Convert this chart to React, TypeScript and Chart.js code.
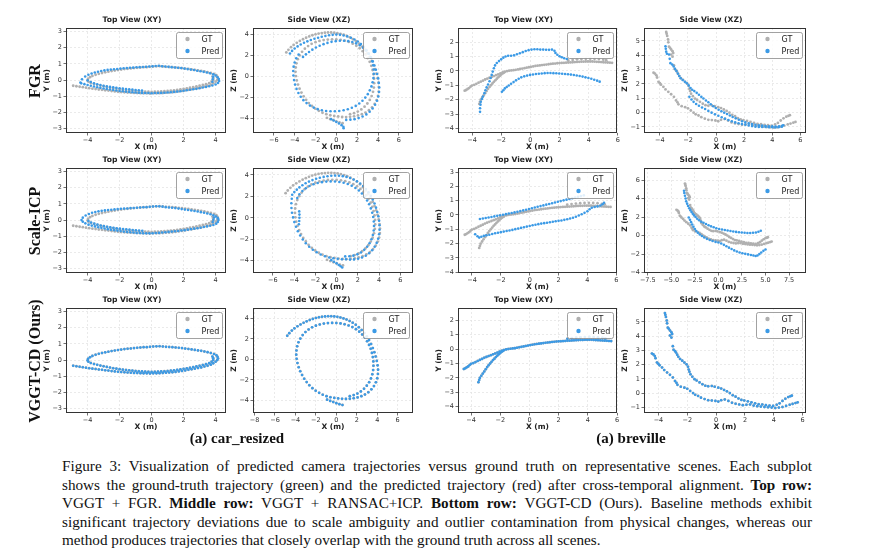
import React, { useEffect, useRef } from 'react';
import { Chart, registerables } from 'chart.js';

Chart.register(...registerables);

type Pt = [number, number];

// ---------- car_resized : top view (X, Y) ----------
const carTopGT: Pt[] = [
  [-4.9,-0.35],[-4.7,-0.38],[-4.5,-0.41],[-4.3,-0.44],[-4.1,-0.47],[-3.9,-0.5],[-3.7,-0.53],[-3.5,-0.55],[-3.3,-0.58],[-3.1,-0.6],
  [-2.9,-0.63],[-2.7,-0.65],[-2.5,-0.68],[-2.3,-0.7],[-2.1,-0.72],[-1.9,-0.74],[-1.7,-0.75],[-1.5,-0.77],[-1.3,-0.78],[-1.1,-0.79],
  [-0.9,-0.8],[-0.7,-0.81],[-0.5,-0.82],[-0.3,-0.82],[-0.1,-0.83],[0.1,-0.82],[0.3,-0.82],[0.5,-0.81],[0.7,-0.8],[0.9,-0.78],
  [1.1,-0.77],[1.3,-0.75],[1.5,-0.73],[1.7,-0.7],[1.9,-0.67],[2.1,-0.64],[2.3,-0.6],[2.5,-0.57],[2.7,-0.53],[2.9,-0.49],
  [3.1,-0.45],[3.3,-0.4],[3.5,-0.35],[3.7,-0.28],[3.85,-0.2],[4.0,-0.1],[4.1,0.0],[4.15,0.1],[4.12,0.2],[4.05,0.3],[3.9,0.38],
  [3.7,0.44],[3.5,0.49],[3.3,0.53],[3.1,0.57],[2.9,0.6],[2.7,0.63],[2.5,0.66],[2.3,0.69],[2.1,0.71],[1.9,0.74],
  [1.7,0.76],[1.5,0.78],[1.3,0.8],[1.1,0.81],[0.9,0.82],[0.7,0.84],[0.5,0.86],[0.3,0.85],[0.1,0.84],[-0.1,0.82],
  [-0.3,0.8],[-0.5,0.8],[-0.7,0.78],[-0.9,0.76],[-1.1,0.74],[-1.3,0.72],[-1.5,0.7],[-1.7,0.68],[-1.9,0.65],[-2.1,0.62],
  [-2.3,0.59],[-2.5,0.56],[-2.7,0.52],[-2.9,0.48],[-3.1,0.44],[-3.3,0.39],[-3.5,0.33],[-3.7,0.26],[-3.85,0.18],[-3.97,0.08],
  [-4.0,-0.02],[-3.95,-0.1],[-3.8,-0.18],[-3.6,-0.24],[-3.4,-0.29],[-3.2,-0.34],[-3.0,-0.38],[-2.8,-0.42],[-2.6,-0.46],[-2.4,-0.5],
  [-2.2,-0.53],[-2.0,-0.56],[-1.8,-0.59],[-1.6,-0.61],[-1.4,-0.63],[-1.2,-0.65],[-1.0,-0.67],[-0.8,-0.69],[-0.6,-0.7],[-0.4,-0.71],
  [-0.2,-0.72],[0.0,-0.73],[0.2,-0.72],[0.4,-0.71],[0.6,-0.7],[0.8,-0.69],[1.0,-0.67],[1.2,-0.65],[1.4,-0.63],[1.6,-0.6],
  [1.8,-0.57],[2.0,-0.54],[2.2,-0.51],[2.4,-0.47],[2.6,-0.43],[2.8,-0.39],[3.0,-0.35],[3.2,-0.3],[3.4,-0.25],[3.6,-0.19],
  [3.75,-0.1],[3.85,0.0],[3.85,0.12],[3.8,0.22],
];

const carTopFGR: Pt[] = [
  [-4.45,-0.15],[-4.35,0.05],[-4.15,0.22],[-3.95,0.33],[-3.75,0.41],[-3.55,0.47],[-3.35,0.52],[-3.15,0.56],[-2.95,0.6],[-2.75,0.63],
  [-2.55,0.65],[-2.35,0.67],[-2.15,0.69],[-1.95,0.71],[-1.75,0.73],[-1.55,0.74],[-1.35,0.76],[-1.15,0.77],[-0.95,0.79],[-0.75,0.8],
  [-0.55,0.81],[-0.35,0.82],[-0.15,0.84],[0.05,0.85],[0.25,0.87],[0.45,0.89],[0.65,0.86],[0.85,0.84],[1.05,0.82],[1.25,0.8],
  [1.45,0.78],[1.65,0.76],[1.85,0.74],[2.05,0.71],[2.25,0.68],[2.45,0.65],[2.65,0.62],[2.85,0.58],[3.05,0.55],[3.25,0.51],
  [3.45,0.47],[3.65,0.42],[3.85,0.36],[4.0,0.28],[4.12,0.18],[4.2,0.06],[4.22,-0.06],[4.15,-0.18],[4.0,-0.27],
  [3.8,-0.33],[3.6,-0.38],[3.4,-0.42],[3.2,-0.46],[3.0,-0.5],[2.8,-0.54],[2.6,-0.57],[2.4,-0.6],[2.2,-0.63],[2.0,-0.66],
  [1.8,-0.69],[1.6,-0.71],[1.4,-0.73],[1.2,-0.75],[1.0,-0.77],[0.8,-0.78],[0.6,-0.79],[0.4,-0.8],[0.2,-0.8],[0.0,-0.81],
  [-0.2,-0.8],[-0.4,-0.8],[-0.6,-0.79],[-0.8,-0.78],[-1.0,-0.77],[-1.2,-0.75],[-1.4,-0.73],[-1.6,-0.71],[-1.8,-0.69],[-2.0,-0.67],
  [-2.2,-0.64],[-2.4,-0.61],[-2.6,-0.58],[-2.8,-0.55],[-3.0,-0.52],[-3.2,-0.48],[-3.4,-0.44],[-3.6,-0.4],[-3.8,-0.35],[-4.0,-0.3],
  [-4.2,-0.25],[-4.4,-0.2],
  [-4.0,-0.02],[-3.8,-0.12],[-3.6,-0.2],[-3.4,-0.26],[-3.2,-0.31],[-3.0,-0.35],[-2.8,-0.39],[-2.6,-0.42],[-2.4,-0.45],[-2.2,-0.48],
  [-2.0,-0.51],[-1.8,-0.53],[-1.6,-0.55],[-1.4,-0.57],[-1.2,-0.59],[-1.0,-0.61],[-0.8,-0.63],[-0.6,-0.64],
  [3.85,0.2],[3.82,0.05],[3.8,-0.1],
];

const carTopICP: Pt[] = [
  [-4.38,0.0],[-4.3,0.15],[-4.12,0.28],[-3.92,0.38],[-3.72,0.45],[-3.52,0.5],[-3.32,0.54],[-3.12,0.57],[-2.92,0.6],[-2.72,0.62],
  [-2.52,0.64],[-2.32,0.66],[-2.12,0.68],[-1.92,0.7],[-1.72,0.71],[-1.52,0.72],[-1.32,0.74],[-1.12,0.75],[-0.92,0.76],[-0.72,0.78],
  [-0.52,0.79],[-0.32,0.8],[-0.12,0.82],[0.08,0.84],[0.28,0.86],[0.48,0.85],[0.68,0.83],[0.88,0.8],[1.08,0.78],[1.28,0.76],
  [1.48,0.74],[1.68,0.71],[1.88,0.68],[2.08,0.65],[2.28,0.62],[2.48,0.59],[2.68,0.56],[2.88,0.53],[3.08,0.49],[3.28,0.45],
  [3.48,0.41],[3.68,0.36],[3.86,0.3],[4.02,0.22],[4.14,0.12],[4.18,0.0],[4.14,-0.12],[4.04,-0.22],
  [3.86,-0.3],[3.66,-0.35],[3.46,-0.39],[3.26,-0.43],[3.06,-0.47],[2.86,-0.5],[2.66,-0.53],[2.46,-0.56],[2.26,-0.59],[2.06,-0.62],
  [1.86,-0.64],[1.66,-0.67],[1.46,-0.69],[1.26,-0.71],[1.06,-0.73],[0.86,-0.75],[0.66,-0.77],[0.46,-0.79],[0.26,-0.8],[0.06,-0.81],
  [-0.14,-0.82],[-0.34,-0.82],[-0.54,-0.81],[-0.74,-0.8],[-0.94,-0.79],[-1.14,-0.77],[-1.34,-0.75],[-1.54,-0.73],[-1.74,-0.71],[-1.94,-0.68],
  [-2.14,-0.65],[-2.34,-0.62],[-2.54,-0.59],[-2.74,-0.56],[-2.94,-0.52],[-3.14,-0.48],[-3.34,-0.44],[-3.54,-0.39],[-3.74,-0.34],[-3.94,-0.28],
  [-4.14,-0.2],[-4.3,-0.1],
  [-3.95,-0.05],[-3.78,-0.15],[-3.58,-0.22],[-3.38,-0.28],[-3.18,-0.33],[-2.98,-0.37],[-2.78,-0.41],[-2.58,-0.44],[-2.38,-0.47],[-2.18,-0.5],
  [-1.98,-0.53],[-1.78,-0.55],[-1.58,-0.57],[-1.38,-0.59],[-1.18,-0.61],[-0.98,-0.63],[-0.78,-0.65],[-0.58,-0.66],
  [3.9,0.16],[3.86,0.02],[3.82,-0.12],
];

// ---------- car_resized : side view (X, Z) ----------
const carSideGT: Pt[] = [
  [-4.8,2.3],[-4.6,2.55],[-4.35,2.8],[-4.1,3.02],[-3.8,3.22],[-3.5,3.4],[-3.2,3.56],[-2.9,3.7],[-2.6,3.83],[-2.3,3.94],
  [-2.0,4.03],[-1.7,4.1],[-1.4,4.15],[-1.1,4.18],[-0.8,4.2],[-0.5,4.2],[-0.2,4.18],[0.1,4.14],[0.4,4.08],[0.7,3.99],
  [1.0,3.88],[1.3,3.74],[1.6,3.57],[1.9,3.37],[2.2,3.13],[2.48,2.86],[2.74,2.56],[2.98,2.23],[3.2,1.88],[3.4,1.5],
  [3.57,1.1],[3.72,0.7],[3.85,0.28],[3.96,-0.15],[4.04,-0.58],[4.08,-1.0],[4.07,-1.42],[4.0,-1.84],[3.87,-2.23],[3.68,-2.6],
  [3.43,-2.92],[3.13,-3.2],[2.8,-3.42],[2.45,-3.58],[2.08,-3.7],[1.7,-3.78],[1.32,-3.83],[0.94,-3.85],[0.56,-3.84],[0.18,-3.8],
  [-0.2,-3.75],[-0.58,-3.68],[-0.96,-3.58],[-1.33,-3.44],[-1.68,-3.26],[-2.02,-3.05],[-2.34,-2.8],[-2.64,-2.52],[-2.9,-2.21],[-3.14,-1.88],
  [-3.35,-1.52],[-3.53,-1.15],[-3.68,-0.76],[-3.8,-0.36],[-3.88,0.05],[-3.92,0.46],[-3.9,0.87],[-3.83,1.27],[-3.7,1.66],[-3.52,2.02],
  [-3.29,2.36],[-3.02,2.66],[-2.71,2.91],[-2.37,3.12],[-2.0,3.28],[-1.62,3.4],[-1.22,3.48],[-0.82,3.53],[-0.41,3.55],[0.0,3.54],
  [0.41,3.5],[0.81,3.42],[1.2,3.3],[1.57,3.14],[1.92,2.94],[2.24,2.7],[2.53,2.42],[2.79,2.11],[3.01,1.77],[3.2,1.41],
  [3.36,1.03],[3.48,0.63],[3.57,0.22],[3.62,-0.2],[3.63,-0.62],[3.6,-1.04],[3.52,-1.45],[3.39,-1.85],[3.21,-2.22],[2.98,-2.56],
  [2.71,-2.86],[2.4,-3.12],[2.06,-3.33],[1.7,-3.48],[1.32,-3.58],
  [-0.9,-3.92],[-0.6,-4.04],[-0.3,-4.15],[0.0,-4.26],[0.3,-4.36],[0.6,-4.44],
];

const carSideFGR: Pt[] = [
  [-4.45,2.2],[-4.25,2.45],[-4.0,2.68],[-3.72,2.88],[-3.42,3.06],[-3.1,3.22],[-2.78,3.36],[-2.45,3.49],[-2.1,3.6],[-1.75,3.7],
  [-1.4,3.79],[-1.05,3.87],[-0.7,3.94],[-0.35,3.98],[0.0,4.0],[0.35,3.98],[0.7,3.92],[1.05,3.83],[1.4,3.7],[1.74,3.54],
  [2.06,3.34],[2.36,3.1],[2.64,2.83],[2.89,2.52],[3.12,2.19],[3.32,1.83],[3.5,1.45],[3.66,1.06],[3.8,0.66],[3.92,0.25],
  [4.02,-0.17],[4.08,-0.6],[4.12,-1.03],[4.1,-1.46],[4.03,-1.89],[3.9,-2.3],[3.72,-2.68],[3.48,-3.03],[3.2,-3.34],[2.88,-3.6],
  [2.52,-3.8],[2.14,-3.95],[1.75,-4.05],[1.35,-4.1],[0.95,-4.12],
  [-0.5,-4.05],[-0.25,-4.18],[0.0,-4.32],[0.25,-4.47],[0.5,-4.62],[0.68,-4.78],[0.7,-4.92],
  [-3.62,2.1],[-3.85,1.75],[-4.0,1.35],[-4.1,0.95],[-4.14,0.53],[-4.12,0.1],[-4.06,-0.33],[-3.96,-0.76],[-3.82,-1.17],[-3.64,-1.56],
  [-3.42,-1.92],[-3.16,-2.24],[-2.86,-2.52],[-2.53,-2.76],[-2.17,-2.95],[-1.79,-3.1],[-1.39,-3.2],[-0.98,-3.27],[-0.56,-3.3],[-0.14,-3.3],
  [0.28,-3.27],[0.7,-3.21],[1.1,-3.11],[1.49,-2.97],[1.86,-2.79],[2.2,-2.56],[2.51,-2.3],[2.78,-2.0],[3.02,-1.67],[3.21,-1.31],
  [3.37,-0.93],[3.48,-0.54],[3.56,-0.14],[3.6,0.27],[3.59,0.68],[3.54,1.08],[3.44,1.47],[3.29,1.84],[3.09,2.18],[2.85,2.49],
  [2.57,2.76],[2.25,2.99],[1.9,3.17],[1.53,3.3],[1.14,3.38],[0.74,3.42],[0.34,3.42],[-0.06,3.38],[-0.46,3.31],[-0.85,3.21],
  [-1.23,3.09],[-1.6,2.94],[-1.96,2.77],[-2.3,2.57],[-2.62,2.35],[-2.92,2.12],[-3.2,1.88],
];

const carSideICP: Pt[] = [
  [-4.18,2.15],[-3.98,2.4],[-3.75,2.63],[-3.5,2.84],[-3.22,3.04],[-2.92,3.22],[-2.6,3.38],[-2.27,3.52],[-1.93,3.64],[-1.58,3.74],
  [-1.22,3.82],[-0.86,3.88],[-0.5,3.92],[-0.14,3.94],[0.22,3.93],[0.58,3.89],[0.93,3.82],[1.27,3.72],[1.6,3.58],[1.92,3.41],
  [2.22,3.2],[2.5,2.96],[2.76,2.69],[3.0,2.39],[3.21,2.06],[3.4,1.71],[3.57,1.34],[3.71,0.95],[3.83,0.55],[3.93,0.14],
  [4.0,-0.28],[4.04,-0.7],[4.04,-1.12],[4.0,-1.54],[3.91,-1.95],[3.77,-2.34],[3.58,-2.7],[3.34,-3.03],[3.06,-3.31],[2.74,-3.54],
  [2.39,-3.71],[2.02,-3.82],[1.64,-3.88],[1.26,-3.9],[0.88,-3.87],
  [0.5,-3.86],[0.1,-3.83],[-0.3,-3.78],[-0.7,-3.7],[-1.1,-3.58],[-1.5,-3.42],[-1.88,-3.22],[-2.24,-2.98],[-2.58,-2.7],[-2.9,-2.38],
  [-3.18,-2.03],[-3.43,-1.65],[-3.65,-1.25],[-3.83,-0.83],[-3.98,-0.4],[-4.1,0.04],[-4.2,0.48],[-4.25,0.92],[-4.26,1.36],[-4.22,1.78],
  [-3.7,1.85],[-3.5,2.2],[-3.22,2.5],[-2.9,2.76],[-2.55,2.97],[-2.17,3.13],[-1.78,3.25],[-1.38,3.33],[-0.97,3.38],[-0.56,3.4],
  [-0.15,3.39],[0.26,3.35],[0.66,3.27],[1.05,3.15],[1.42,2.99],[1.77,2.79],[2.09,2.55],[2.38,2.27],[2.64,1.96],[2.87,1.62],
  [3.06,1.26],[3.22,0.88],[3.35,0.48],[3.44,0.07],[3.5,-0.35],[3.52,-0.77],[3.49,-1.19],[3.41,-1.6],[3.28,-2.0],[3.1,-2.37],
  [2.87,-2.7],[2.6,-2.99],[2.29,-3.23],[1.95,-3.41],[1.58,-3.53],[1.2,-3.59],[0.81,-3.6],
  [-3.52,0.6],[-3.5,0.3],[-3.5,0.0],[-3.52,-0.3],[-3.55,-0.6],
  [-0.5,-3.95],[-0.25,-4.1],[0.0,-4.25],[0.2,-4.4],[0.38,-4.52],[0.53,-4.64],
];

// ---------- breville : top view (X, Y) ----------
const brevTopGT: Pt[] = [
  [-4.5,-1.38],[-4.4,-1.33],[-4.3,-1.26],[-4.2,-1.2],[-4.1,-1.1],[-4.0,-1.02],[-3.85,-0.97],[-3.7,-0.9],[-3.55,-0.82],[-3.4,-0.75],
  [-3.25,-0.68],[-3.1,-0.6],[-2.95,-0.54],[-2.8,-0.48],[-2.65,-0.42],[-2.5,-0.36],[-2.35,-0.3],[-2.2,-0.24],[-2.05,-0.17],[-1.9,-0.11],
  [-1.75,-0.06],[-1.6,-0.02],[-1.45,0.01],[-1.3,0.03],[-1.15,0.05],[-1.0,0.07],[-0.85,0.1],[-0.7,0.13],[-0.55,0.16],[-0.4,0.19],
  [-0.25,0.22],[-0.1,0.25],[0.05,0.28],[0.2,0.31],[0.35,0.34],[0.5,0.36],[0.65,0.38],[0.8,0.4],[0.95,0.42],[1.1,0.44],
  [1.25,0.46],[1.4,0.48],[1.55,0.5],[1.7,0.51],[1.85,0.53],[2.0,0.54],[2.15,0.55],[2.3,0.56],[2.45,0.57],[2.6,0.58],
  [2.75,0.59],[2.9,0.6],[3.05,0.61],[3.2,0.62],[3.35,0.63],[3.5,0.64],[3.65,0.64],[3.8,0.65],[3.95,0.65],[4.1,0.65],
  [4.25,0.65],[4.4,0.64],[4.55,0.63],[4.7,0.62],[4.85,0.61],[5.0,0.6],[5.15,0.59],[5.3,0.58],[5.45,0.57],[5.6,0.56],
  [2.6,0.72],[2.9,0.76],[3.2,0.8],[3.5,0.82],[3.8,0.84],[4.1,0.85],[4.4,0.84],[4.7,0.82],[5.0,0.78],[5.2,0.74],
  [-3.5,-2.3],[-3.45,-2.15],[-3.4,-2.0],[-3.3,-1.85],[-3.2,-1.7],[-3.1,-1.55],[-3.0,-1.4],[-2.9,-1.25],[-2.8,-1.12],[-2.7,-1.0],
  [-2.6,-0.88],[-2.5,-0.76],[-2.4,-0.66],[-2.3,-0.55],[-2.2,-0.45],[-2.1,-0.35],[-2.0,-0.26],[-1.9,-0.18],[-1.8,-0.12],
];

const brevTopFGR: Pt[] = [
  [-3.45,-2.85],[-3.45,-2.6],[-3.42,-2.35],[-3.4,-2.15],[-3.32,-1.95],[-3.25,-1.78],[-3.15,-1.55],[-3.08,-1.35],[-3.0,-1.15],[-2.9,-0.95],
  [-2.8,-0.72],[-2.72,-0.5],[-2.65,-0.28],[-2.58,-0.05],[-2.5,0.18],[-2.42,0.38],[-2.3,0.55],[-2.15,0.68],[-2.0,0.8],[-1.85,0.92],
  [-1.7,1.0],[-1.52,1.05],[-1.32,1.05],[-1.12,1.08],[-0.92,1.15],[-0.72,1.22],[-0.52,1.3],[-0.32,1.38],[-0.12,1.44],[0.08,1.48],
  [0.28,1.5],[0.48,1.5],[0.68,1.48],[0.88,1.48],[1.08,1.47],[1.28,1.46],[1.48,1.48],[1.65,1.4],[1.72,1.25],[1.85,1.12],
  [2.0,1.02],[2.15,0.95],[2.32,0.88],[2.5,0.82],
  [-1.95,-1.45],[-1.85,-1.35],[-1.75,-1.22],[-1.62,-1.12],[-1.48,-1.02],[-1.32,-0.9],[-1.15,-0.78],[-0.98,-0.66],[-0.8,-0.55],[-0.62,-0.45],
  [-0.42,-0.38],[-0.22,-0.33],[-0.02,-0.28],[0.18,-0.25],[0.38,-0.22],[0.58,-0.2],[0.78,-0.18],[0.98,-0.16],[1.18,-0.15],[1.38,-0.15],
  [1.58,-0.16],[1.78,-0.17],[1.98,-0.18],[2.18,-0.2],[2.38,-0.22],[2.58,-0.24],[2.78,-0.26],[2.98,-0.29],[3.18,-0.32],[3.38,-0.36],
  [3.58,-0.4],[3.78,-0.45],[3.98,-0.5],[4.18,-0.55],[4.38,-0.62],[4.58,-0.68],[4.75,-0.75],
];

const brevTopICP: Pt[] = [
  [-3.45,-0.28],[-3.25,-0.25],[-3.05,-0.21],[-2.85,-0.18],[-2.65,-0.14],[-2.45,-0.1],[-2.25,-0.06],[-2.05,-0.02],[-1.85,0.02],[-1.65,0.06],
  [-1.45,0.1],[-1.25,0.14],[-1.05,0.18],[-0.85,0.22],[-0.65,0.27],[-0.45,0.32],[-0.25,0.37],[-0.05,0.42],[0.15,0.47],[0.35,0.52],
  [0.55,0.57],[0.75,0.62],[0.95,0.67],[1.15,0.72],[1.35,0.77],[1.55,0.82],[1.75,0.87],[1.95,0.92],[2.15,0.97],[2.35,1.02],
  [2.55,1.07],[2.75,1.12],[2.95,1.17],[3.15,1.22],[3.35,1.27],[3.55,1.32],[3.75,1.37],
  [-3.78,-1.35],[-3.62,-1.48],[-3.5,-1.58],[-3.35,-1.52],[-3.18,-1.46],[-3.0,-1.42],[-2.8,-1.38],[-2.6,-1.33],[-2.4,-1.28],[-2.2,-1.24],
  [-2.0,-1.2],[-1.8,-1.16],[-1.6,-1.12],[-1.4,-1.08],[-1.2,-1.04],[-1.0,-0.99],[-0.8,-0.95],[-0.6,-0.9],[-0.4,-0.86],[-0.2,-0.81],
  [0.0,-0.77],[0.2,-0.72],[0.4,-0.68],[0.6,-0.64],[0.8,-0.6],[1.0,-0.57],[1.2,-0.54],[1.4,-0.51],[1.6,-0.47],[1.8,-0.44],
  [2.0,-0.41],[2.2,-0.38],[2.4,-0.34],[2.6,-0.3],[2.8,-0.25],[3.0,-0.19],[3.2,-0.12],[3.4,-0.04],[3.6,0.05],[3.8,0.15],
  [4.0,0.26],[4.15,0.4],[4.3,0.5],[4.5,0.56],[4.7,0.6],[4.9,0.66],[5.05,0.75],[5.15,0.85],
];

// ---------- breville : side view (X, Z) ----------
const brevSideGT: Pt[] = [
  [-3.55,5.62],[-3.52,5.5],[-3.48,5.35],[-3.42,5.1],[-3.4,4.9],[-3.35,4.6],[-3.28,4.52],[-3.2,4.4],[-3.1,4.28],[-3.05,4.15],
  [-3.2,4.05],[-3.1,3.9],[-3.0,3.3],[-2.95,3.05],[-2.85,2.95],[-2.78,2.85],[-2.7,2.7],[-2.62,2.55],[-2.5,2.4],[-2.35,2.28],
  [-2.2,2.15],[-2.05,2.02],[-1.95,1.85],[-1.9,1.65],[-1.85,1.5],[-1.78,1.32],[-1.65,1.15],[-1.5,0.98],[-1.35,0.88],[-1.15,0.75],
  [-0.95,0.62],[-0.75,0.52],[-0.55,0.48],[-0.3,0.5],[-0.1,0.45],[0.15,0.38],[0.35,0.32],[0.55,0.22],[0.75,0.12],[0.95,0.0],
  [1.15,-0.15],[1.35,-0.25],[1.55,-0.38],[1.75,-0.48],[1.95,-0.52],[2.2,-0.58],[2.45,-0.65],[2.7,-0.72],[2.95,-0.78],[3.2,-0.8],
  [3.45,-0.85],[3.7,-0.88],[3.95,-0.9],[4.2,-0.82],[4.4,-0.72],[4.6,-0.55],[4.8,-0.4],[5.0,-0.28],[5.15,-0.22],[5.25,-0.18],
  [-4.45,2.78],[-4.35,2.72],[-4.25,2.6],[-4.2,2.45],[-4.1,2.15],[-4.0,2.05],[-3.92,1.95],[-3.75,1.8],[-3.6,1.62],[-3.4,1.45],
  [-3.2,1.28],[-3.0,1.1],[-2.85,0.85],[-2.75,0.72],[-2.68,0.58],[-2.45,0.45],[-2.2,0.38],[-2.0,0.3],[-1.8,0.15],[-1.6,0.0],
  [-1.45,-0.12],[-1.25,-0.2],[-1.05,-0.32],[-0.8,-0.42],[-0.55,-0.5],[-0.3,-0.52],[-0.05,-0.55],[0.15,-0.6],[0.35,-0.5],[0.6,-0.45],
  [0.85,-0.55],[1.1,-0.68],[1.35,-0.75],[1.6,-0.8],[1.85,-0.85],[2.1,-0.82],[2.35,-0.8],[2.6,-0.88],[2.85,-0.92],[3.1,-0.95],
  [3.35,-0.98],[3.6,-1.0],[3.85,-1.02],[4.1,-1.05],[4.35,-1.02],[4.6,-0.98],[4.85,-0.9],[5.1,-0.82],[5.3,-0.76],[5.5,-0.7],[5.65,-0.65],
];

const brevSideFGR: Pt[] = [
  [-3.6,4.62],[-3.58,4.45],[-3.55,4.25],[-3.5,4.1],[-3.35,4.05],[-3.3,3.75],[-3.25,3.45],[-3.12,3.35],[-3.02,3.22],[-2.92,3.05],
  [-2.82,2.9],[-2.72,2.72],[-2.62,2.55],[-2.52,2.4],[-2.38,2.28],[-2.22,2.15],[-2.08,2.05],[-1.95,1.9],[-1.82,1.72],[-1.7,1.6],
  [-1.55,1.5],[-1.38,1.38],[-1.22,1.25],[-1.05,1.1],[-0.9,0.98],[-0.72,0.85],[-0.55,0.72],[-0.38,0.58],[-0.2,0.45],[-0.02,0.32],
  [0.18,0.2],[0.38,0.1],[0.58,0.0],[0.78,-0.1],[0.98,-0.2],[1.18,-0.3],[1.4,-0.4],[1.62,-0.5],[1.85,-0.6],[2.08,-0.68],
  [2.32,-0.75],[2.56,-0.8],[2.8,-0.85],[3.04,-0.88],[3.28,-0.9],[3.52,-0.93],[3.76,-0.95],[4.0,-0.96],[4.24,-0.97],[4.48,-0.96],
  [4.7,-0.92],[4.78,-0.88],
  [-1.9,1.1],[-1.75,0.92],[-1.6,0.75],[-1.42,0.6],[-1.22,0.48],[-1.0,0.36],[-0.78,0.25],[-0.55,0.12],[-0.32,0.0],[-0.08,-0.12],
  [0.16,-0.22],[0.4,-0.32],[0.64,-0.42],[0.88,-0.52],[1.12,-0.6],[1.36,-0.68],[1.6,-0.74],[1.84,-0.8],[2.08,-0.85],[2.32,-0.9],
  [2.56,-0.94],[2.8,-0.98],[3.04,-1.0],[3.28,-1.0],[3.52,-1.0],[3.76,-1.02],[4.0,-1.02],[4.22,-1.03],[4.45,-1.02],[4.68,-0.98],
];

const brevSideICP: Pt[] = [
  [-3.65,4.85],[-3.62,4.6],[-3.55,4.3],[-3.48,4.0],[-3.42,3.7],[-3.32,3.45],[-3.22,3.2],[-3.1,2.95],[-2.98,2.75],[-2.85,2.55],
  [-2.72,2.35],[-2.58,2.18],[-2.42,2.0],[-2.25,1.82],[-2.05,1.65],[-1.82,1.5],[-1.58,1.38],[-1.32,1.25],[-1.05,1.12],[-0.78,1.0],
  [-0.5,0.9],[-0.22,0.8],[0.08,0.72],[0.38,0.65],[0.68,0.6],[0.98,0.55],[1.28,0.5],[1.58,0.45],[1.88,0.4],[2.18,0.36],
  [2.48,0.33],[2.78,0.3],[3.08,0.28],[3.38,0.28],[3.68,0.3],[3.98,0.34],[4.25,0.42],[4.5,0.52],
  [-3.15,1.95],[-3.02,1.7],[-2.9,1.45],[-2.78,1.2],[-2.65,0.95],[-2.5,0.72],[-2.35,0.5],[-2.18,0.3],[-1.98,0.12],[-1.75,-0.05],
  [-1.5,-0.2],[-1.22,-0.35],[-0.92,-0.48],[-0.62,-0.58],[-0.3,-0.68],[0.0,-0.75],[0.3,-0.85],[0.58,-1.0],[0.85,-1.15],[1.12,-1.3],
  [1.4,-1.45],[1.68,-1.6],[1.96,-1.72],[2.25,-1.82],[2.55,-1.9],[2.85,-1.97],[3.15,-2.03],[3.45,-2.1],[3.72,-2.15],[3.95,-2.2],
  [4.15,-2.15],[4.35,-2.0],[4.55,-1.82],[4.78,-1.65],[5.0,-1.5],
];

// VGGT-CD output lands on the ground truth in every view
const carTopOurs: Pt[] = carTopGT;
const carSideOurs: Pt[] = carSideGT;
const brevTopOurs: Pt[] = brevTopGT;
const brevSideOurs: Pt[] = brevSideGT;

// ---------- tick values ----------
const carTopXTicks = [-4, -2, 0, 2, 4];
const carTopYTicks = [-3, -2, -1, 0, 1, 2, 3];
const carSideXTicks = [-6, -4, -2, 0, 2, 4, 6];
const carSideXTicksOurs = [-8, -6, -4, -2, 0, 2, 4, 6];
const carSideYTicks = [-4, -2, 0, 2, 4];
const brevTopXTicks = [-4, -2, 0, 2, 4, 6];
const brevTopYTicks = [-4, -3, -2, -1, 0, 1, 2];
const brevTopYTicksICP = [-4, -3, -2, -1, 0, 1, 2, 3];
const brevSideXTicks = [-4, -2, 0, 2, 4, 6];
const brevSideYTicks = [-1, 0, 1, 2, 3, 4, 5];
const brevSideXTicksICP = [-7.5, -5, -2.5, 0, 2.5, 5, 7.5];
const brevSideYTicksICP = [-4, -2, 0, 2, 4, 6];

const rowNames = ['FGR', 'Scale-ICP', 'VGGT-CD (Ours)'];
const sceneNames = ['(a) car_resized', '(a) breville'];

// ---------- styling ----------
const SANS = '"DejaVu Sans", Verdana, sans-serif';
const SERIF = '"Liberation Serif", "Times New Roman", serif';
const GT_COLOR = '#b0b0b0';
const PRED_COLOR = '#3b9ae6';
const GRID_COLOR = '#e2e2e2';
const INK = '#222222';

const COL_LEFT = [66, 253, 458, 644];
const COL_WIDTH = [160, 160, 159, 162];
const ROW_TOP = [28, 168, 308];
const PLOT_H = 105;

const Y_AXIS_W = 28;
const TITLE_H = 20;
const X_AXIS_H = 20;
const RIGHT_PAD = 6;

interface PanelSpec {
  row: number;
  col: number;
  title: string;
  yLabel: string;
  gt: Pt[];
  pred: Pt[];
  xRange: [number, number];
  yRange: [number, number];
  xTicks: number[];
  yTicks: number[];
  xDecimals: number;
}

const TOP = 'Top View (XY)';
const SIDE = 'Side View (XZ)';

const panels: PanelSpec[] = [
  { row: 0, col: 0, title: TOP, yLabel: 'Y (m)', gt: carTopGT, pred: carTopFGR, xRange: [-5.35, 4.65], yRange: [-3.27, 3.22], xTicks: carTopXTicks, yTicks: carTopYTicks, xDecimals: 0 },
  { row: 0, col: 1, title: SIDE, yLabel: 'Z (m)', gt: carSideGT, pred: carSideFGR, xRange: [-8.0, 7.36], yRange: [-5.37, 4.63], xTicks: carSideXTicks, yTicks: carSideYTicks, xDecimals: 0 },
  { row: 0, col: 2, title: TOP, yLabel: 'Y (m)', gt: brevTopGT, pred: brevTopFGR, xRange: [-4.96, 5.94], yRange: [-4.32, 2.98], xTicks: brevTopXTicks, yTicks: brevTopYTicks, xDecimals: 0 },
  { row: 0, col: 3, title: SIDE, yLabel: 'Z (m)', gt: brevSideGT, pred: brevSideFGR, xRange: [-5.13, 6.4], yRange: [-1.42, 5.9], xTicks: brevSideXTicks, yTicks: brevSideYTicks, xDecimals: 0 },

  { row: 1, col: 0, title: TOP, yLabel: 'Y (m)', gt: carTopGT, pred: carTopICP, xRange: [-5.35, 4.65], yRange: [-3.27, 3.22], xTicks: carTopXTicks, yTicks: carTopYTicks, xDecimals: 0 },
  { row: 1, col: 1, title: SIDE, yLabel: 'Z (m)', gt: carSideGT, pred: carSideICP, xRange: [-7.87, 7.19], yRange: [-5.15, 4.65], xTicks: carSideXTicks, yTicks: carSideYTicks, xDecimals: 0 },
  { row: 1, col: 2, title: TOP, yLabel: 'Y (m)', gt: brevTopGT, pred: brevTopICP, xRange: [-4.97, 6.05], yRange: [-4.05, 3.28], xTicks: brevTopXTicks, yTicks: brevTopYTicksICP, xDecimals: 0 },
  { row: 1, col: 3, title: SIDE, yLabel: 'Z (m)', gt: brevSideGT, pred: brevSideICP, xRange: [-7.9, 9.3], yRange: [-4.04, 7.3], xTicks: brevSideXTicksICP, yTicks: brevSideYTicksICP, xDecimals: 1 },

  { row: 2, col: 0, title: TOP, yLabel: 'Y (m)', gt: carTopGT, pred: carTopOurs, xRange: [-5.35, 4.65], yRange: [-3.27, 3.22], xTicks: carTopXTicks, yTicks: carTopYTicks, xDecimals: 0 },
  { row: 2, col: 1, title: SIDE, yLabel: 'Z (m)', gt: carSideGT, pred: carSideOurs, xRange: [-8.15, 7.5], yRange: [-5.22, 5.0], xTicks: carSideXTicksOurs, yTicks: carSideYTicks, xDecimals: 0 },
  { row: 2, col: 2, title: TOP, yLabel: 'Y (m)', gt: brevTopGT, pred: brevTopOurs, xRange: [-4.9, 6.0], yRange: [-4.44, 2.86], xTicks: brevTopXTicks, yTicks: brevTopYTicks, xDecimals: 0 },
  { row: 2, col: 3, title: SIDE, yLabel: 'Z (m)', gt: brevSideGT, pred: brevSideOurs, xRange: [-5.0, 6.23], yRange: [-1.4, 5.98], xTicks: brevSideXTicks, yTicks: brevSideYTicks, xDecimals: 0 },
];

const tickFormatter = (decimals: number) => (value: number | string) => {
  const v = Number(value);
  const s = Math.abs(v).toFixed(decimals);
  return v < 0 ? '\u2212' + s : s;
};

// full rectangular frame around the plotting area
const framePlugin = {
  id: 'frameBox',
  afterDatasetsDraw(chart: Chart) {
    const { ctx, chartArea: a } = chart;
    ctx.save();
    ctx.strokeStyle = '#333333';
    ctx.lineWidth = 1;
    ctx.strokeRect(a.left + 0.5, a.top + 0.5, a.right - a.left - 1, a.bottom - a.top - 1);
    ctx.restore();
  },
};

// boxed legend in the upper-right corner of the plotting area
const legendBoxPlugin = {
  id: 'legendBox',
  afterDraw(chart: Chart) {
    const { ctx, chartArea: a } = chart;
    const w = 46, h = 26;
    const x = a.right - 4 - w;
    const y = a.top + 4;
    ctx.save();
    ctx.beginPath();
    ctx.roundRect(x + 0.5, y + 0.5, w, h, 2);
    ctx.fillStyle = 'rgba(255,255,255,0.85)';
    ctx.fill();
    ctx.strokeStyle = '#8a8a8a';
    ctx.lineWidth = 0.8;
    ctx.stroke();
    const items = chart.data.datasets.slice().reverse();
    items.forEach((ds, i) => {
      const cy = y + 7 + i * 12;
      ctx.beginPath();
      ctx.arc(x + 11.5, cy, 2.2, 0, Math.PI * 2);
      ctx.fillStyle = ds.backgroundColor as string;
      ctx.fill();
      ctx.fillStyle = INK;
      ctx.font = `8px ${SANS}`;
      ctx.textBaseline = 'middle';
      ctx.textAlign = 'left';
      ctx.fillText(ds.label as string, x + 25.5, cy + 0.5);
    });
    ctx.restore();
  },
};

function Panel({ spec }: { spec: PanelSpec }) {
  const ref = useRef<HTMLCanvasElement>(null);
  const plotW = COL_WIDTH[spec.col];
  const cw = Y_AXIS_W + plotW + RIGHT_PAD;
  const ch = TITLE_H + PLOT_H + X_AXIS_H;
  const left = COL_LEFT[spec.col] - Y_AXIS_W;
  const top = ROW_TOP[spec.row] - TITLE_H;

  useEffect(() => {
    if (!ref.current) return;
    const tickFont = { family: SANS, size: 6.5 };
    const labelFont = { family: SANS, size: 7.5, weight: 'bold' as const };
    const chart = new Chart(ref.current, {
      type: 'scatter',
      data: {
        datasets: [
          {
            label: 'Pred',
            data: spec.pred.map(([x, y]) => ({ x, y })),
            backgroundColor: PRED_COLOR,
            pointRadius: 1.3,
            pointBorderWidth: 0,
            borderWidth: 0,
            order: 0,
          },
          {
            label: 'GT',
            data: spec.gt.map(([x, y]) => ({ x, y })),
            backgroundColor: GT_COLOR,
            pointRadius: 1.4,
            pointBorderWidth: 0,
            borderWidth: 0,
            order: 1,
          },
        ],
      },
      options: {
        responsive: false,
        animation: false,
        events: [],
        layout: { padding: { left: 0, right: RIGHT_PAD, top: 0, bottom: 0 } },
        plugins: {
          legend: { display: false },
          tooltip: { enabled: false },
          title: {
            display: true,
            text: spec.title,
            color: INK,
            font: { family: SANS, size: 7.6, weight: 'bold' },
            padding: { top: 7.2, bottom: 3.68 },
          },
        },
        scales: {
          x: {
            type: 'linear',
            min: spec.xRange[0],
            max: spec.xRange[1],
            afterBuildTicks: (s: any) => { s.ticks = spec.xTicks.map((v) => ({ value: v })); },
            afterFit: (s: any) => { s.height = X_AXIS_H; s.paddingLeft = 0; s.paddingRight = 0; },
            ticks: { font: tickFont, color: '#333', padding: 0.5, maxRotation: 0, autoSkip: false, callback: tickFormatter(spec.xDecimals) },
            grid: { color: GRID_COLOR, lineWidth: 0.7, drawTicks: true, tickLength: 2.5, tickColor: '#333', tickWidth: 0.7 },
            border: { display: false, dash: [2, 2] },
            title: { display: true, text: 'X (m)', color: INK, font: labelFont, padding: { top: 0, bottom: 1.5 } },
          },
          y: {
            type: 'linear',
            min: spec.yRange[0],
            max: spec.yRange[1],
            afterBuildTicks: (s: any) => { s.ticks = spec.yTicks.map((v) => ({ value: v })); },
            afterFit: (s: any) => { s.width = Y_AXIS_W; s.paddingTop = 0; s.paddingBottom = 0; },
            ticks: { font: tickFont, color: '#333', padding: 1.5, autoSkip: false, callback: tickFormatter(0) },
            grid: { color: GRID_COLOR, lineWidth: 0.7, drawTicks: true, tickLength: 2.5, tickColor: '#333', tickWidth: 0.7 },
            border: { display: false, dash: [2, 2] },
            title: { display: true, text: spec.yLabel, color: INK, font: labelFont, padding: { top: 4.5, bottom: 0 } },
          },
        },
      },
      plugins: [framePlugin, legendBoxPlugin],
    });
    return () => chart.destroy();
  }, [spec]);

  return (
    <canvas
      ref={ref}
      width={cw}
      height={ch}
      style={{ position: 'absolute', left, top, width: cw, height: ch }}
    />
  );
}

const captionStyle: React.CSSProperties = {
  position: 'absolute',
  left: 62,
  width: 750,
  fontFamily: SERIF,
  fontSize: 15.2,
  lineHeight: '18px',
  color: '#111',
  textAlign: 'justify',
  textAlignLast: 'justify',
};

export default function App() {
  const captionTop = 457;
  const lineStep = 18.5;
  const captionLines: React.ReactNode[] = [
    <>Figure 3: Visualization of predicted camera trajectories versus ground truth on representative scenes. Each subplot</>,
    <>shows the ground-truth trajectory (green) and the predicted trajectory (red) after cross-temporal alignment. <b>Top row:</b></>,
    <>VGGT + FGR. <b>Middle row:</b> VGGT + RANSAC+ICP. <b>Bottom row:</b> VGGT-CD (Ours). Baseline methods exhibit</>,
    <>significant trajectory deviations due to scale ambiguity and outlier contamination from physical changes, whereas our</>,
    <>method produces trajectories that closely overlap with the ground truth across all scenes.</>,
  ];

  return (
    <div style={{ position: 'absolute', left: 0, top: 0, width: 875, height: 554, background: '#fff', overflow: 'hidden' }}>
      {panels.map((p, i) => <Panel key={i} spec={p} />)}

      {rowNames.map((name, r) => (
        <div
          key={name}
          style={{
            position: 'absolute',
            left: 35,
            top: ROW_TOP[r] + PLOT_H / 2,
            transform: 'translate(-50%, -50%) rotate(-90deg)',
            whiteSpace: 'nowrap',
            fontFamily: SERIF,
            fontWeight: 'bold',
            fontSize: 16,
            color: '#111',
          }}
        >
          {name}
        </div>
      ))}

      {sceneNames.map((name, i) => (
        <div
          key={name}
          style={{
            position: 'absolute',
            left: i === 0 ? 237 : 631,
            top: 438,
            transform: 'translate(-50%, -50%)',
            whiteSpace: 'nowrap',
            fontFamily: SERIF,
            fontWeight: 'bold',
            fontSize: 15,
            color: '#111',
          }}
        >
          {name}
        </div>
      ))}

      {captionLines.map((line, i) => (
        <div
          key={i}
          style={{
            ...captionStyle,
            top: captionTop + i * lineStep,
            textAlignLast: i === captionLines.length - 1 ? 'left' : 'justify',
          }}
        >
          {line}
        </div>
      ))}
    </div>
  );
}
